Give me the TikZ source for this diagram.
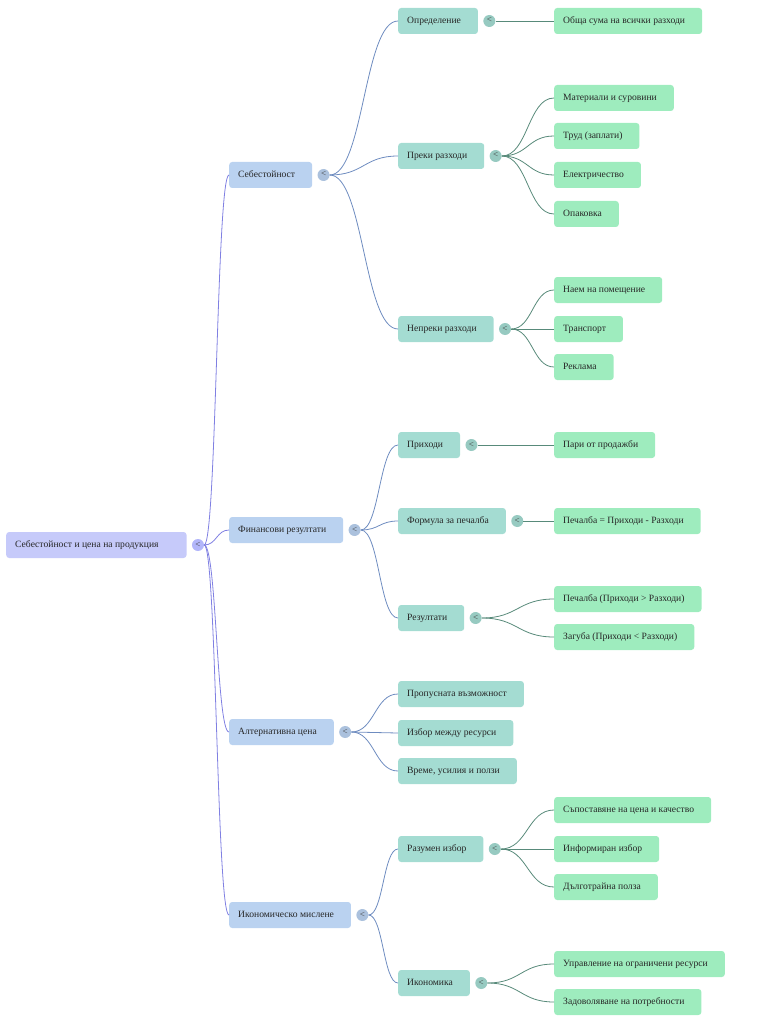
\documentclass[tikz,border=0pt]{standalone}
\usepackage{fontspec}
\setmainfont{Liberation Serif}
\usetikzlibrary{positioning,calc}
\definecolor{rootfill}{RGB}{198,202,250}
\definecolor{lvla}{RGB}{186,210,240}
\definecolor{lvlb}{RGB}{164,220,210}
\definecolor{lvlc}{RGB}{158,236,190}
\definecolor{linka}{RGB}{128,128,226}
\definecolor{linkb}{RGB}{110,140,192}
\definecolor{linkc}{RGB}{88,138,122}
\tikzstyle{box} = [rectangle, rounded corners=3pt, anchor=west, minimum height=26pt,
    inner xsep=9pt, inner ysep=0pt, text height=6.6pt, text depth=2pt,
    text=black!85, font=\fontsize{9.6}{11}\selectfont,
    execute at end node={\hspace{8pt}}]
\tikzstyle{tog} = [circle, inner sep=0pt, minimum size=12pt, text height=4pt, text depth=0pt,
    font=\fontsize{9}{9}\selectfont, text=black!75]
\newcommand{\branch}[3]{%
  \path ($(#2)!0.5!(#3)$) coordinate (bm);
  \draw[#1, line width=0.8pt] (#2) .. controls (bm |- #2) and (bm |- #3) .. (#3);}

\begin{document}
\begin{tikzpicture}[x=1pt, y=-1pt]
		\useasboundingbox (0,0) rectangle (756,1024);
		% root
		\node [box, fill=rootfill, execute at end node={\hspace{11pt}}] (root) at (6,545) {Себестойност и цена на продукция};
		\node [tog, fill=rootfill!90!blue, right=5pt of root] (root-t) {<};
		
		% level 1
		\node [box, fill=lvla] (cost) at (229,175) {Себестойност};
		\node [box, fill=lvla] (fin) at (229,530) {Финансови резултати};
		\node [box, fill=lvla] (alt) at (229,732) {Алтернативна цена};
		\node [box, fill=lvla] (econ) at (229,915) {Икономическо мислене};
		\node [tog, fill=lvla!92!black, right=5pt of cost] (cost-t) {<};
		\node [tog, fill=lvla!92!black, right=5pt of fin] (fin-t) {<};
		\node [tog, fill=lvla!92!black, right=5pt of alt] (alt-t) {<};
		\node [tog, fill=lvla!92!black, right=5pt of econ] (econ-t) {<};
		
		% level 2
		\node [box, fill=lvlb] (def) at (398,21) {Определение};
		\node [box, fill=lvlb] (direct) at (398,156) {Преки разходи};
		\node [box, fill=lvlb] (indirect) at (398,329) {Непреки разходи};
		\node [box, fill=lvlb] (income) at (398,445) {Приходи};
		\node [box, fill=lvlb] (formula) at (398,521) {Формула за печалба};
		\node [box, fill=lvlb] (result) at (398,618) {Резултати};
		\node [box, fill=lvlb] (missed) at (398,694) {Пропусната възможност};
		\node [box, fill=lvlb] (choice) at (398,733) {Избор между ресурси};
		\node [box, fill=lvlb] (time) at (398,771) {Време, усилия и ползи};
		\node [box, fill=lvlb] (smart) at (398,849) {Разумен избор};
		\node [box, fill=lvlb] (economy) at (398,983) {Икономика};
		\node [tog, fill=lvlb!92!black, right=5pt of def] (def-t) {<};
		\node [tog, fill=lvlb!92!black, right=5pt of direct] (direct-t) {<};
		\node [tog, fill=lvlb!92!black, right=5pt of indirect] (indirect-t) {<};
		\node [tog, fill=lvlb!92!black, right=5pt of income] (income-t) {<};
		\node [tog, fill=lvlb!92!black, right=5pt of formula] (formula-t) {<};
		\node [tog, fill=lvlb!92!black, right=5pt of result] (result-t) {<};
		\node [tog, fill=lvlb!92!black, right=5pt of smart] (smart-t) {<};
		\node [tog, fill=lvlb!92!black, right=5pt of economy] (economy-t) {<};
		
		% level 3
		\node [box, fill=lvlc] (total) at (554,21) {Обща сума на всички разходи};
		\node [box, fill=lvlc] (mat) at (554,98) {Материали и суровини};
		\node [box, fill=lvlc] (labour) at (554,136) {Труд (заплати)};
		\node [box, fill=lvlc] (power) at (554,175) {Електричество};
		\node [box, fill=lvlc] (pack) at (554,214) {Опаковка};
		\node [box, fill=lvlc] (rent) at (554,290) {Наем на помещение};
		\node [box, fill=lvlc] (transport) at (554,329) {Транспорт};
		\node [box, fill=lvlc] (ads) at (554,367) {Реклама};
		\node [box, fill=lvlc] (sales) at (554,445) {Пари от продажби};
		\node [box, fill=lvlc] (profiteq) at (554,521) {Печалба = Приходи - Разходи};
		\node [box, fill=lvlc] (profit) at (554,599) {Печалба (Приходи > Разходи)};
		\node [box, fill=lvlc] (loss) at (554,637) {Загуба (Приходи < Разходи)};
		\node [box, fill=lvlc] (compare) at (554,810) {Съпоставяне на цена и качество};
		\node [box, fill=lvlc] (informed) at (554,849) {Информиран избор};
		\node [box, fill=lvlc] (lasting) at (554,887) {Дълготрайна полза};
		\node [box, fill=lvlc] (manage) at (554,964) {Управление на ограничени ресурси};
		\node [box, fill=lvlc] (needs) at (554,1002) {Задоволяване на потребности};
		
		% links
		\branch{linka}{root-t.east}{cost.west}
		\branch{linka}{root-t.east}{fin.west}
		\branch{linka}{root-t.east}{alt.west}
		\branch{linka}{root-t.east}{econ.west}
		\branch{linkb}{cost-t.east}{def.west}
		\branch{linkb}{cost-t.east}{direct.west}
		\branch{linkb}{cost-t.east}{indirect.west}
		\branch{linkb}{fin-t.east}{income.west}
		\branch{linkb}{fin-t.east}{formula.west}
		\branch{linkb}{fin-t.east}{result.west}
		\branch{linkb}{alt-t.east}{missed.west}
		\branch{linkb}{alt-t.east}{choice.west}
		\branch{linkb}{alt-t.east}{time.west}
		\branch{linkb}{econ-t.east}{smart.west}
		\branch{linkb}{econ-t.east}{economy.west}
		\branch{linkc}{def-t.east}{total.west}
		\branch{linkc}{direct-t.east}{mat.west}
		\branch{linkc}{direct-t.east}{labour.west}
		\branch{linkc}{direct-t.east}{power.west}
		\branch{linkc}{direct-t.east}{pack.west}
		\branch{linkc}{indirect-t.east}{rent.west}
		\branch{linkc}{indirect-t.east}{transport.west}
		\branch{linkc}{indirect-t.east}{ads.west}
		\branch{linkc}{income-t.east}{sales.west}
		\branch{linkc}{formula-t.east}{profiteq.west}
		\branch{linkc}{result-t.east}{profit.west}
		\branch{linkc}{result-t.east}{loss.west}
		\branch{linkc}{smart-t.east}{compare.west}
		\branch{linkc}{smart-t.east}{informed.west}
		\branch{linkc}{smart-t.east}{lasting.west}
		\branch{linkc}{economy-t.east}{manage.west}
		\branch{linkc}{economy-t.east}{needs.west}
	\end{tikzpicture}
\end{document}
